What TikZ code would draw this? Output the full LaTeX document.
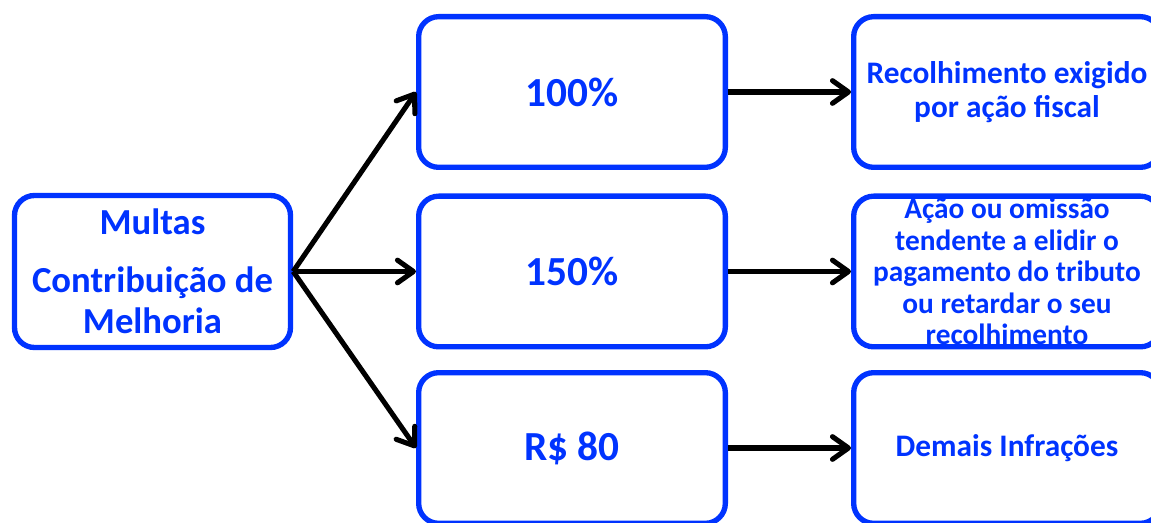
\documentclass[tikz,border=0pt]{standalone}
\usepackage{fontspec}
\setmainfont{Carlito}
\usetikzlibrary{arrows.meta}
\definecolor{azul}{RGB}{0,51,255}

\begin{document}
\begin{tikzpicture}[x=0.75pt,y=-0.75pt,
  caixa/.style={draw=azul,line width=4pt,rounded corners=15pt,minimum width=230pt,minimum height=113pt,align=center,text=azul,inner sep=0pt},
  grande/.style={font=\bfseries\fontsize{31}{38}\selectfont},
  pequena/.style={font=\bfseries\fontsize{23.5}{25}\selectfont},
  seta/.style={line width=3.8pt,-{Straight Barb[length=12pt,width=17pt,line cap=round,line join=round]}}]
\useasboundingbox (0,0) rectangle (1151,523);
\clip (0,0) rectangle (1151,523);
 % origem
 \node[caixa,minimum width=207pt,minimum height=114pt,font=\bfseries\fontsize{27.5}{31}\selectfont] (multas) at (152.5,271.5) {Multas\\[12pt]Contribuição de\\Melhoria};
 % percentuais
 \node[caixa,grande] (cem) at (572,92) {100\%};
 \node[caixa,grande] (cinquenta) at (572,271.5) {150\%};
 \node[caixa,grande] (oitenta) at (572,448) {R\$ 80};
 % hipoteses
 \node[caixa,pequena] (fiscal) at (1007,92) {Recolhimento exigido\\por ação fiscal};
 \node[caixa,pequena,font=\bfseries\fontsize{22}{23.6}\selectfont,inner ysep=-4pt] (omissao) at (1007,271.5) {Ação ou omissão\\tendente a elidir o\\pagamento do tributo\\ou retardar o seu\\recolhimento};
 \node[caixa,pequena] (demais) at (1007,448) {Demais Infrações};
 \draw[seta] (multas.east) -- (cem.west);
 \draw[seta] (multas.east) -- (cinquenta.west);
 \draw[seta] (multas.east) -- (oitenta.west);
 \draw[seta] (cem.east) -- (fiscal.west);
 \draw[seta] (cinquenta.east) -- (omissao.west);
 \draw[seta] (oitenta.east) -- (demais.west);
\end{tikzpicture}
\end{document}
